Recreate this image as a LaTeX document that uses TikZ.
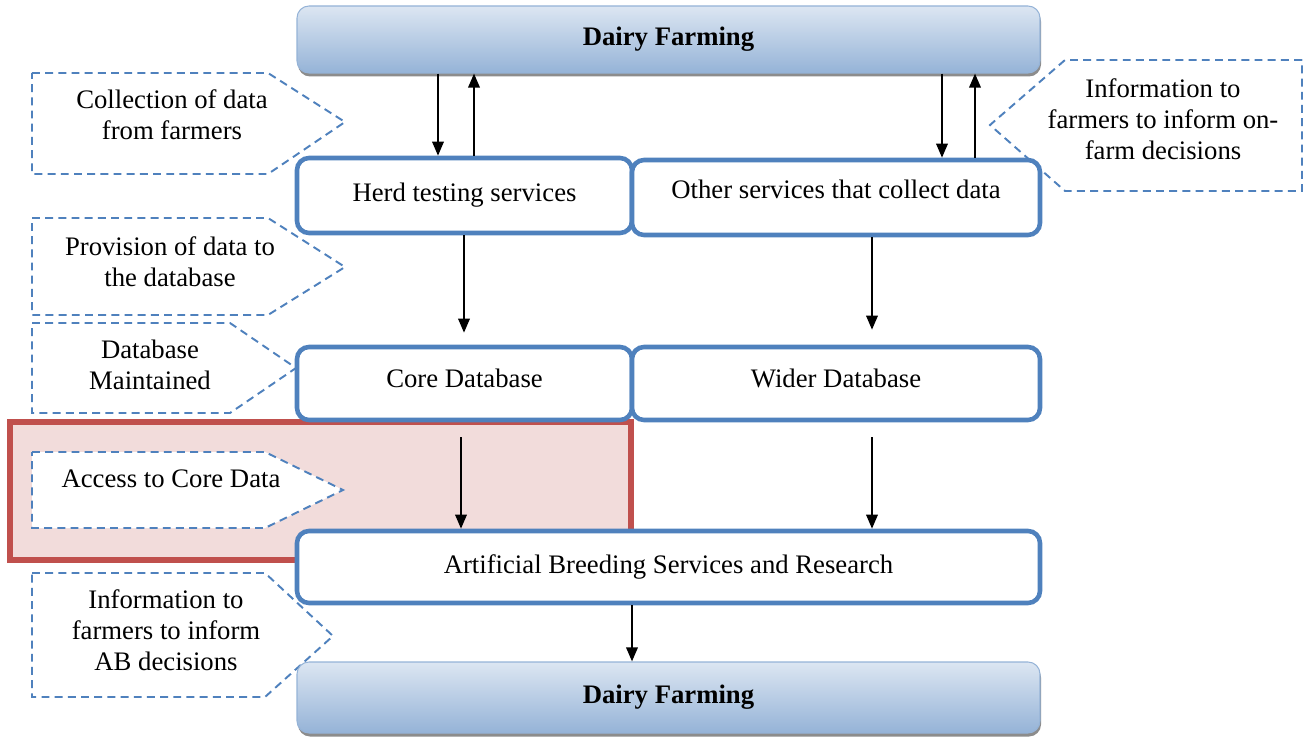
\documentclass[tikz,border=0pt]{standalone}
\usepackage{fontspec}
\setmainfont{Liberation Serif}
\usetikzlibrary{arrows.meta,shadows}
\definecolor{boxblue}{HTML}{4F81BD}
\definecolor{barlight}{HTML}{DCE6F2}
\definecolor{bardark}{HTML}{95B3D7}
\definecolor{redline}{HTML}{C0504D}
\definecolor{redfill}{HTML}{F2DCDB}
\tikzset{
  stage/.style={draw=boxblue, line width=2.6pt, rounded corners=0.24cm, fill=white,
    inner sep=0pt, font=\fontsize{15.2}{17.6}\selectfont},
  farm/.style={draw=bardark, line width=0.6pt, rounded corners=0.24cm,
    top color=barlight, bottom color=bardark,
    drop shadow={shadow xshift=0.02cm, shadow yshift=-0.07cm, fill=black!45, opacity=1},
    inner sep=0pt, font=\fontsize{15.2}{17.6}\selectfont\bfseries},
  note/.style={draw=boxblue, line width=1.1pt, dash pattern=on 4.5pt off 3pt, fill=white},
  notetext/.style={align=center, inner sep=0pt, font=\fontsize{15.2}{17.6}\selectfont},
  arr/.style={-{Triangle[length=8pt,width=6.5pt]}, line width=1.2pt},
}
\begin{document}
\begin{tikzpicture}
\useasboundingbox (0,0) rectangle (26.08,-14.84);
% highlighted area
\draw[draw=redline, fill=redfill, line width=3.2pt] (0.20,-8.44) rectangle (12.62,-11.20);
% callouts
\draw[note] (0.64,-1.46) -- (5.36,-1.46) -- (6.90,-2.44) -- (5.36,-3.48) -- (0.64,-3.48) -- cycle;
\draw[note] (0.64,-4.36) -- (5.36,-4.36) -- (6.90,-5.34) -- (5.36,-6.30) -- (0.64,-6.30) -- cycle;
\draw[note] (0.64,-6.46) -- (4.60,-6.46) -- (5.92,-7.36) -- (4.60,-8.26) -- (0.64,-8.26) -- cycle;
\draw[note] (0.64,-9.04) -- (5.30,-9.04) -- (6.86,-9.80) -- (5.30,-10.56) -- (0.64,-10.56) -- cycle;
\draw[note] (0.64,-11.46) -- (5.30,-11.46) -- (6.66,-12.72) -- (5.30,-13.94) -- (0.64,-13.94) -- cycle;
\draw[note] (26.04,-1.20) -- (21.30,-1.20) -- (19.80,-2.50) -- (21.30,-3.82) -- (26.04,-3.82) -- cycle;
\node[notetext] (collect) at (3.44,-2.30) {Collection of data\\from farmers};
\node[notetext] (provide) at (3.40,-5.24) {Provision of data to\\the database};
\node[notetext] (maintain) at (3.00,-7.30) {Database\\Maintained};
\node[notetext] (access) at (3.42,-9.58) {Access to Core Data};
\node[notetext] (infoab) at (3.32,-12.60) {Information to\\farmers to inform\\AB decisions};
\node[notetext] (infofarm) at (23.26,-2.38) {Information to\\farmers to inform on-\\farm decisions};
% stages
\node[farm, minimum width=14.86cm, minimum height=1.34cm] (topfarm) at (13.37,-0.79) {Dairy Farming};
\node[stage, minimum width=6.70cm, minimum height=1.50cm] (herd) at (9.29,-3.91) {Herd testing services};
\node[stage, minimum width=8.16cm, minimum height=1.50cm, text depth=0.34cm] (other) at (16.72,-3.95) {Other services that collect data};
\node[stage, minimum width=6.70cm, minimum height=1.46cm, text depth=0.2cm] (core) at (9.29,-7.67) {Core Database};
\node[stage, minimum width=8.16cm, minimum height=1.46cm, text depth=0.2cm] (wider) at (16.72,-7.67) {Wider Database};
\node[stage, minimum width=14.86cm, minimum height=1.44cm] (breed) at (13.37,-11.34) {Artificial Breeding Services and Research};
\node[farm, minimum width=14.86cm, minimum height=1.42cm] (botfarm) at (13.37,-13.95) {Dairy Farming};
% connectors
\draw[arr] (8.76,0 |- topfarm.south) -- (8.76,0 |- herd.north);
\draw[arr] (9.48,0 |- herd.north) -- (9.48,0 |- topfarm.south);
\draw[arr] (18.84,0 |- topfarm.south) -- (18.84,0 |- other.north);
\draw[arr] (19.50,0 |- other.north) -- (19.50,0 |- topfarm.south);
\draw[arr, shorten >=0.24cm] (9.28,0 |- herd.south) -- (9.28,0 |- core.north);
\draw[arr, shorten >=0.30cm] (17.44,0 |- other.south) -- (17.44,0 |- wider.north);
\draw[arr, shorten <=0.30cm] (9.22,0 |- core.south) -- (9.22,0 |- breed.north);
\draw[arr, shorten <=0.30cm] (17.44,0 |- wider.south) -- (17.44,0 |- breed.north);
\draw[arr] (12.64,0 |- breed.south) -- (12.64,0 |- botfarm.north);
\end{tikzpicture}
\end{document}
